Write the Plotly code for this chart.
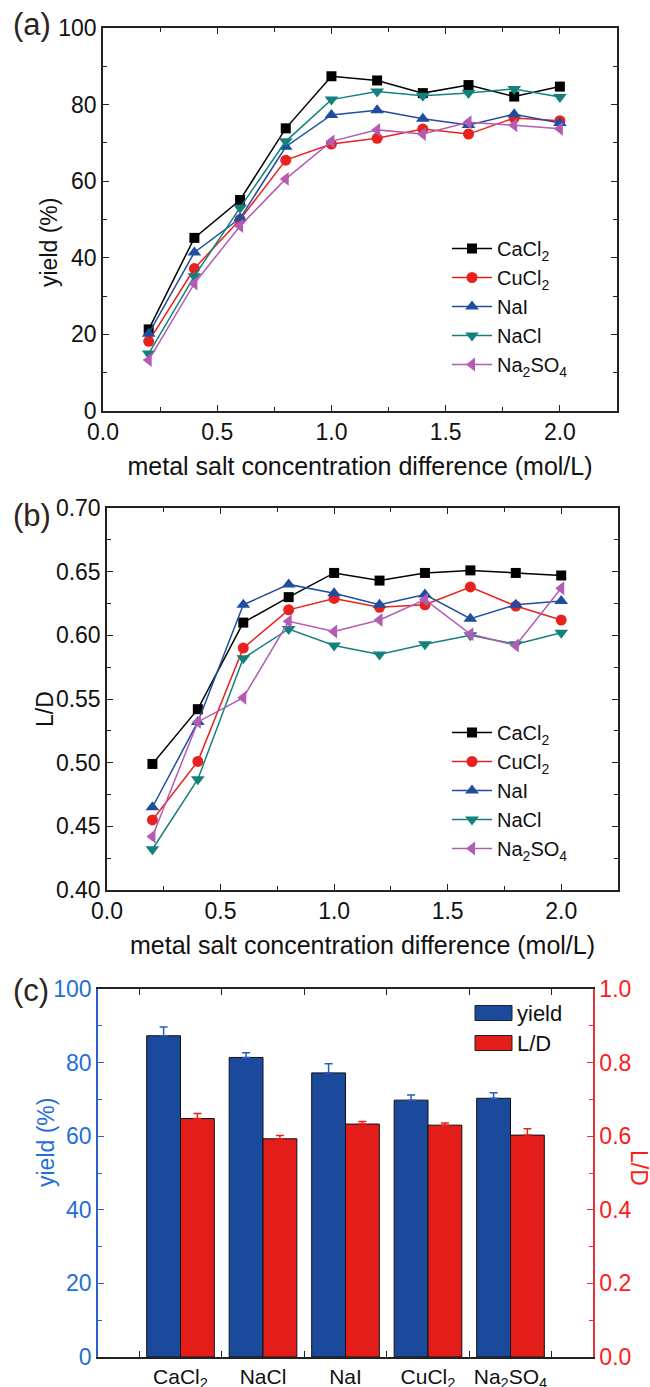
import plotly.graph_objects as go

# ---------------- data ----------------
conc = [0.2, 0.4, 0.6, 0.8, 1.0, 1.2, 1.4, 1.6, 1.8, 2.0]

series_names = ["CaCl<sub>2</sub>", "CuCl<sub>2</sub>", "NaI", "NaCl", "Na<sub>2</sub>SO<sub>4</sub>"]

yield_CaCl2 = [21.3, 45.2, 55.1, 73.8, 87.4, 86.3, 83.0, 85.1, 82.1, 84.7]
yield_CuCl2 = [18.2, 37.2, 50.0, 65.5, 69.7, 71.2, 73.6, 72.3, 76.5, 75.8]
yield_NaI = [20.2, 41.4, 50.3, 69.0, 77.3, 78.5, 76.3, 74.7, 77.5, 75.2]
yield_NaCl = [15.0, 35.2, 53.1, 70.4, 81.3, 83.4, 82.3, 83.0, 84.1, 82.0]
yield_Na2SO4 = [13.3, 33.3, 48.3, 60.6, 70.4, 73.4, 72.3, 75.4, 74.6, 73.7]

LD_CaCl2 = [0.499, 0.542, 0.610, 0.630, 0.649, 0.643, 0.649, 0.651, 0.649, 0.647]
LD_CuCl2 = [0.455, 0.501, 0.590, 0.620, 0.629, 0.622, 0.624, 0.638, 0.623, 0.612]
LD_NaI = [0.465, 0.532, 0.624, 0.640, 0.633, 0.624, 0.632, 0.613, 0.624, 0.627]
LD_NaCl = [0.432, 0.487, 0.582, 0.605, 0.592, 0.585, 0.593, 0.600, 0.593, 0.602]
LD_Na2SO4 = [0.442, 0.532, 0.551, 0.611, 0.603, 0.612, 0.628, 0.601, 0.592, 0.637]

bar_salts = ["CaCl<sub>2</sub>", "NaCl", "NaI", "CuCl<sub>2</sub>", "Na<sub>2</sub>SO<sub>4</sub>"]
bar_yield = [87.3, 81.4, 77.2, 69.8, 70.3]
bar_yield_err = [2.4, 1.3, 2.5, 1.4, 1.5]
bar_LD = [0.648, 0.593, 0.633, 0.630, 0.603]
bar_LD_err = [0.014, 0.009, 0.007, 0.006, 0.017]

# ---------------- styles ----------------
colors = ["#000000", "#e8231f", "#1f4ea0", "#14817d", "#b25cb4"]
symbols = ["square", "circle", "triangle-up", "triangle-down", "triangle-left"]
msizes = [10, 11, 12, 12, 12]
FONT = "Liberation Sans, Arial, Helvetica, sans-serif"
W, H = 650, 1387

def dom_x(a, b):
    return [a / W, b / W]

def dom_y(top, bot):
    return [1 - bot / H, 1 - top / H]

def px(x):
    return x / W

def py(y):
    return 1 - y / H

fig = go.Figure()

yield_sets = [yield_CaCl2, yield_CuCl2, yield_NaI, yield_NaCl, yield_Na2SO4]
ld_sets = [LD_CaCl2, LD_CuCl2, LD_NaI, LD_NaCl, LD_Na2SO4]

for i, name in enumerate(series_names):
    fig.add_trace(go.Scatter(
        x=conc, y=yield_sets[i], name=name, mode="lines+markers",
        line=dict(color=colors[i], width=1.5),
        marker=dict(symbol=symbols[i], size=msizes[i], color=colors[i]),
        xaxis="x", yaxis="y", legend="legend"))
for i, name in enumerate(series_names):
    fig.add_trace(go.Scatter(
        x=conc, y=ld_sets[i], name=name, mode="lines+markers",
        line=dict(color=colors[i], width=1.5),
        marker=dict(symbol=symbols[i], size=msizes[i], color=colors[i]),
        xaxis="x2", yaxis="y2", legend="legend2"))

bar_blue = "#1b4a9c"
bar_red = "#e31e1a"
fig.add_trace(go.Bar(
    x=bar_salts, y=bar_yield, name="yield", width=0.41, offset=-0.41,
    marker=dict(color=bar_blue, line=dict(color="#111111", width=1)),
    error_y=dict(type="data", array=bar_yield_err, arrayminus=[0] * 5, symmetric=False,
                 color="#2a5cc0", thickness=1.5, width=4),
    xaxis="x3", yaxis="y3", showlegend=False))
fig.add_trace(go.Bar(
    x=bar_salts, y=bar_LD, name="L/D", width=0.41, offset=0,
    marker=dict(color=bar_red, line=dict(color="#111111", width=1)),
    error_y=dict(type="data", array=bar_LD_err, arrayminus=[0] * 5, symmetric=False,
                 color="#e8231f", thickness=1.5, width=4),
    xaxis="x3", yaxis="y4", showlegend=False))

tickfont = dict(family=FONT, size=23, color="#111111")
xtitlefont = dict(family=FONT, size=25, color="#111111")
BLUE_TXT = "#1f6fd8"
RED_TXT = "#ff1a1a"

def frame_axis(**kw):
    d = dict(showline=True, linecolor="#222222", linewidth=1.5, mirror="allticks",
             ticks="inside", ticklen=6, tickwidth=1.2, tickcolor="#222222",
             showgrid=False, zeroline=False, tickfont=tickfont, automargin=False)
    d.update(kw)
    return d

layout = dict(
    width=W, height=H, margin=dict(l=0, r=0, t=0, b=0, autoexpand=False),
    paper_bgcolor="white", plot_bgcolor="white",
    font=dict(family=FONT, color="#111111"),
    xaxis=frame_axis(domain=dom_x(103, 617), range=[0, 2.25], dtick=0.5, tickformat=".1f",
                     minor=dict(dtick=0.25, ticks="inside", ticklen=4, tickcolor="#222222"),
                     anchor="y",
                     title=dict(text="metal salt concentration difference (mol/L)", font=xtitlefont, standoff=13)),
    yaxis=frame_axis(domain=dom_y(28, 411), range=[0, 100], dtick=20,
                     minor=dict(dtick=10, ticks="inside", ticklen=4, tickcolor="#222222"),
                     anchor="x"),
    xaxis2=frame_axis(domain=dom_x(107, 618), range=[0, 2.25], dtick=0.5, tickformat=".1f",
                      minor=dict(dtick=0.25, ticks="inside", ticklen=4, tickcolor="#222222"),
                      anchor="y2",
                      title=dict(text="metal salt concentration difference (mol/L)", font=xtitlefont, standoff=13)),
    yaxis2=frame_axis(domain=dom_y(508, 890), range=[0.40, 0.70], dtick=0.05, tickformat=".2f",
                      minor=dict(dtick=0.025, ticks="inside", ticklen=4, tickcolor="#222222"),
                      anchor="x2"),
    xaxis3=frame_axis(domain=dom_x(98, 593), range=[-1, 5], anchor="y3", tickson="boundaries",
                      mirror="ticks", tickangle=0,
                      tickfont=dict(family=FONT, size=21, color="#111111")),
    yaxis3=dict(domain=dom_y(989, 1357), range=[0, 100], dtick=20, anchor="x3", automargin=False,
                showline=True, linecolor="#2a62c8", linewidth=1.5, ticks="inside", ticklen=6,
                tickcolor="#2a62c8", tickwidth=1.2, showgrid=False, zeroline=False,
                minor=dict(dtick=10, ticks="inside", ticklen=4, tickcolor="#2a62c8"),
                tickfont=dict(family=FONT, size=23, color=BLUE_TXT)),
    yaxis4=dict(range=[0, 1.0], dtick=0.2, tickformat=".1f", overlaying="y3", side="right", anchor="x3",
                automargin=False,
                showline=True, linecolor="#e8323a", linewidth=1.5, ticks="inside", ticklen=6,
                tickcolor="#e8323a", tickwidth=1.2, showgrid=False, zeroline=False,
                minor=dict(dtick=0.1, ticks="inside", ticklen=4, tickcolor="#e8323a"),
                tickfont=dict(family=FONT, size=23, color=RED_TXT)),
    legend=dict(x=px(447), y=py(229), xanchor="left", yanchor="top",
                bgcolor="rgba(0,0,0,0)", font=dict(family=FONT, size=20, color="#111111"),
                itemwidth=40, tracegroupgap=0),
    legend2=dict(x=px(447), y=py(713), xanchor="left", yanchor="top",
                 bgcolor="rgba(0,0,0,0)", font=dict(family=FONT, size=20, color="#111111"),
                 itemwidth=40, tracegroupgap=0),
    barmode="overlay",
)
fig.update_layout(**layout)

shapes = []
annotations = []

# manual legend for panel (c)
legend_c = [("yield", bar_blue, 1013), ("L/D", bar_red, 1043)]
for label, col, yc in legend_c:
    shapes.append(dict(type="rect", xref="paper", yref="paper",
                       x0=px(475), x1=px(512), y0=py(yc + 7.5), y1=py(yc - 7.5),
                       fillcolor=col, line=dict(color="#222222", width=1)))
    annotations.append(dict(text=label, xref="paper", yref="paper", x=px(515), y=py(yc),
                            xanchor="left", yanchor="middle", showarrow=False,
                            font=dict(family=FONT, size=22, color="#111111")))

# y-axis titles
ytitles = [("yield (%)", 49, 243, "#111111"), ("L/D", 45, 709, "#111111"),
           ("yield (%)", 46, 1143, BLUE_TXT), ("L/D", 639, 1168, RED_TXT)]
for txt, xc, yc, col in ytitles:
    annotations.append(dict(text=txt, xref="paper", yref="paper", x=px(xc), y=py(yc),
                            xanchor="center", yanchor="middle", textangle=-90 if xc < 300 else 90,
                            showarrow=False, font=dict(family=FONT, size=23, color=col)))

for lab, yt in [("(a)", 24), ("(b)", 515), ("(c)", 990)]:
    annotations.append(dict(text=lab, xref="paper", yref="paper", x=px(11), y=py(yt),
                            xanchor="left", yanchor="middle", showarrow=False,
                            font=dict(family=FONT, size=31, color="#2e2420")))

fig.update_layout(shapes=shapes, annotations=annotations)
fig.write_html("out.html", config={"displayModeBar": False},
               post_script="document.body.style.margin='0';document.body.style.overflow='hidden';")
